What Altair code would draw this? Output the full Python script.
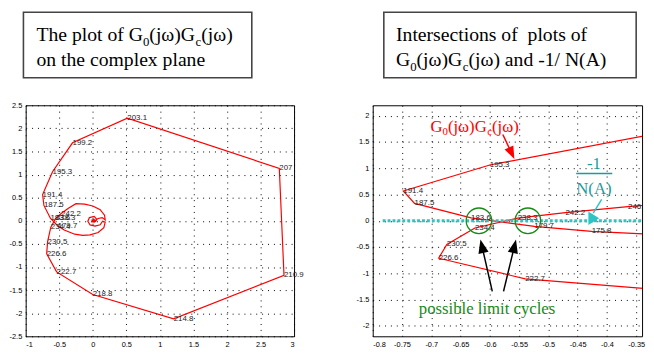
import altair as alt
import pandas as pd

SANS = "Liberation Sans"
SERIF = "Liberation Serif"
RED = "#ff0000"
CYAN = "#2ec4c4"
TEAL = "#1a9c9c"
GREEN = "#168a16"

# ---- labelled samples of G0(jw)Gc(jw) (frequency, real, imag) ----
freq_lbl = ["175.8", "179.7", "183.6", "187.5", "191.4", "195.3", "199.2", "203.1", "207",
            "210.9", "214.8", "218.8", "222.7", "226.6", "230.5", "234.4", "238.3", "242.2", "246.1"]
pt_re = [-0.426, -0.524, -0.632, -0.7285, -0.7477, -0.600, -0.302, 0.515, 2.780,
         2.850, 1.205, 0.000, -0.5395, -0.6874, -0.6734, -0.6255, -0.5524, -0.4709, -0.364]
pt_im = [-0.200, -0.107, 0.056, 0.332, 0.568, 1.063, 1.688, 2.220, 1.133,
         -1.182, -2.123, -1.595, -1.106, -0.713, -0.450, -0.137, 0.050, 0.156, 0.270]
left_hidden = ["175.8", "246.1"]

# low-frequency part (spiral near origin, out to 175.8)
low_re = [0.012, 0.025, 0.01, -0.005, 0.005, 0.03, 0.02, -0.012, -0.01, 0.02, 0.045,
          0.06, 0.02, -0.05, -0.074, -0.04, 0.035,
          0.11, 0.146, 0.185, 0.165, 0.08, -0.04, -0.15, -0.27]
low_im = [0.0, 0.012, 0.022, 0.008, -0.015, -0.008, 0.03, 0.02, -0.022, -0.03, -0.01,
          0.03, 0.095, 0.07, -0.01, -0.09, -0.115,
          -0.085, -0.01, -0.03, -0.15, -0.255, -0.305, -0.315, -0.29]
# high-frequency part (after 246.1, back to origin)
high_re = [-0.25, -0.12, 0.0, 0.11, 0.175, 0.185, 0.14, 0.08, 0.04, 0.02]
high_im = [0.37, 0.36, 0.32, 0.24, 0.12, 0.02, 0.07, 0.05, 0.01, -0.01]

curve_re = low_re + pt_re + high_re
curve_im = low_im + pt_im + high_im
curve = pd.DataFrame({"i": list(range(len(curve_re))), "re": curve_re, "im": curve_im})
labels = pd.DataFrame({"t": freq_lbl, "re": pt_re, "im": pt_im})
labels_left = labels[~labels["t"].isin(left_hidden)]

# axis ticks
LX = [-1, -0.5, 0, 0.5, 1, 1.5, 2, 2.5, 3]
LY = [-2.5, -2, -1.5, -1, -0.5, 0, 0.5, 1, 1.5, 2, 2.5]
RX = [-0.8, -0.75, -0.7, -0.65, -0.6, -0.55, -0.5, -0.45, -0.4, -0.35]
RY = [-2, -1.5, -1, -0.5, 0, 0.5, 1, 1.5, 2]

# -1/N(A) locus
na_x = [-0.783]
na_x2 = [-0.336]
na_y = [0]

# limit-cycle circles
circ_re = [-0.6186, -0.535]
circ_im = [0, 0]

# annotation arrows (shaft start/end) and heads
shaft_x = [-0.5958, -0.5766, -0.5778, -0.409]
shaft_y = [-1.344, -1.344, 1.644, 0.407]
shaft_x2 = [-0.6134, -0.558, -0.5627, -0.4234]
shaft_y2 = [-0.484, -0.484, 1.286, 0.144]
shaft_c = ["#000000", "#000000", RED, CYAN]

TRI_UP = "M0,-1L0.75,1L-0.75,1Z"
TRI_R = "M1,0L-1,-1.25L-1,1.25Z"
head_x = [-0.6134, -0.558, -0.5627, -0.4225]
head_y = [-0.484, -0.484, 1.286, 0.05]
head_a = [347.2, 13.5, 154.9, 0]
head_c = ["#000000", "#000000", RED, CYAN]
head_s = [TRI_UP, TRI_UP, TRI_UP, TRI_R]
head_z = [196, 196, 169, 121]

one = pd.DataFrame({"k": [0]})


def ax(vals):
    return alt.Axis(values=vals, labelExpr="'' + datum.value", grid=True, gridColor="#000",
                    gridDash=[1, 5], gridWidth=1, gridOpacity=1, ticks=False, domain=False,
                    labelOverlap=False, labelFont=SANS, labelFontSize=7.5, labelColor="#000",
                    labelPadding=4, title=None)


def pieces(items):
    out = []
    for txt, px, py, fs, col, al in items:
        out.append(alt.Chart(one).mark_text(text=txt, font=SERIF, fontSize=fs, color=col, align=al,
                                            baseline="alphabetic").encode(x=alt.value(px), y=alt.value(py)))
    return out


def box(x1, x2):
    return alt.Chart(one).mark_rect(fill="white", stroke="#444", strokeWidth=1.6).encode(
        x=alt.value(x1), x2=alt.value(x2), y=alt.value(-94.7), y2=alt.value(-28))


# ---------------- left panel ----------------
lx = alt.X("re:Q", scale=alt.Scale(domain=[-1, 3], nice=False, zero=False), axis=ax(LX))
ly = alt.Y("im:Q", scale=alt.Scale(domain=[-2.5, 2.5], nice=False, zero=False), axis=ax(LY))
left_line = alt.Chart(curve).mark_line(color=RED, strokeWidth=1.2, clip=True).encode(x=lx, y=ly, order="i:Q")
left_text = alt.Chart(labels_left).mark_text(align="left", baseline="middle", font=SANS, fontSize=8,
                                             color="#222").encode(x=lx, y=ly, text="t:N")
left_title = pieces([
    ("The plot of G", 11, -65.3, 20, "#000", "left"),
    ("0", 119.3, -60.8, 13, "#000", "left"),
    ("(jω)G", 125.8, -65.3, 20, "#000", "left"),
    ("c", 172.8, -60.8, 13, "#000", "left"),
    ("(jω)", 178.6, -65.3, 20, "#000", "left"),
    ("on the complex plane", 11, -39.7, 20, "#000", "left"),
])
left = alt.layer(left_line, left_text, box(-2.3, 230), *left_title).properties(width=273, height=235)

# ---------------- right panel ----------------
rx = alt.X("re:Q", scale=alt.Scale(domain=[-0.8, -0.34], nice=False, zero=False), axis=ax(RX))
ry = alt.Y("im:Q", scale=alt.Scale(domain=[-2.2, 2.2], nice=False, zero=False), axis=ax(RY))
right_line = alt.Chart(curve).mark_line(color=RED, strokeWidth=1.2, clip=True).encode(x=rx, y=ry, order="i:Q")
na = alt.Chart(pd.DataFrame({"re": na_x, "re2": na_x2, "im": na_y})).mark_rule(
    color=CYAN, strokeWidth=3, strokeDash=[3, 2], clip=True).encode(x=rx, x2="re2:Q", y=ry)
right_text = alt.Chart(labels).mark_text(align="left", baseline="middle", font=SANS, fontSize=8,
                                         color="#222", clip=True).encode(x=rx, y=ry, text="t:N")
circles = alt.Chart(pd.DataFrame({"re": circ_re, "im": circ_im})).mark_point(
    shape="circle", filled=False, color=GREEN, strokeWidth=1.3, size=676, opacity=1).encode(x=rx, y=ry)
shafts = alt.Chart(pd.DataFrame({"re": shaft_x, "im": shaft_y, "re2": shaft_x2, "im2": shaft_y2, "c": shaft_c})).mark_rule(
    strokeWidth=1.5).encode(x=rx, y=ry, x2="re2:Q", y2="im2:Q", color=alt.Color("c:N", scale=None))
heads = alt.Chart(pd.DataFrame({"re": head_x, "im": head_y, "a": head_a, "c": head_c, "s": head_s, "z": head_z})).mark_point(
    filled=True, opacity=1, strokeWidth=0).encode(
    x=rx, y=ry, angle=alt.Angle("a:Q", scale=None), color=alt.Color("c:N", scale=None),
    shape=alt.Shape("s:N", scale=None), size=alt.Size("z:Q", scale=None))
bar = alt.Chart(one).mark_rule(color=TEAL, strokeWidth=1.5).encode(
    x=alt.value(207), x2=alt.value(243.7), y=alt.value(69.3))
right_notes = pieces([
    ("G", 58.7, 27, 17, RED, "left"),
    ("0", 71, 30.5, 11, RED, "left"),
    ("(jω)G", 76.5, 27, 17, RED, "left"),
    ("c", 116.5, 30.5, 11, RED, "left"),
    ("(jω)", 121.4, 27, 17, RED, "left"),
    ("-1", 225, 65, 17, TEAL, "center"),
    ("N(A)", 225, 90, 17, TEAL, "center"),
    ("possible limit cycles", 116.3, 212, 17, GREEN, "center"),
])
right_title = pieces([
    ("Intersections of\u00a0 plots of", 23.7, -65.3, 20, "#000", "left"),
    ("G", 23.7, -39.7, 20, "#000", "left"),
    ("0", 38.1, -35.2, 13, "#000", "left"),
    ("(jω)G", 44.6, -39.7, 20, "#000", "left"),
    ("c", 91.6, -35.2, 13, "#000", "left"),
    ("(jω) and -1/ N(A)", 97.4, -39.7, 20, "#000", "left"),
])
right = alt.layer(right_line, na, right_text, circles, shafts, heads, bar, *right_notes,
                  box(11.3, 268), *right_title).properties(width=274, height=235)

chart = alt.hconcat(left, right, spacing=80, bounds="flush").properties(
    padding={"left": 0, "top": 0, "right": 0, "bottom": 0}
).configure_view(stroke="#000", strokeWidth=1).configure_axis(labelOverlap=False)

chart.save("out.html", embed_options={"renderer": "svg", "actions": False})
